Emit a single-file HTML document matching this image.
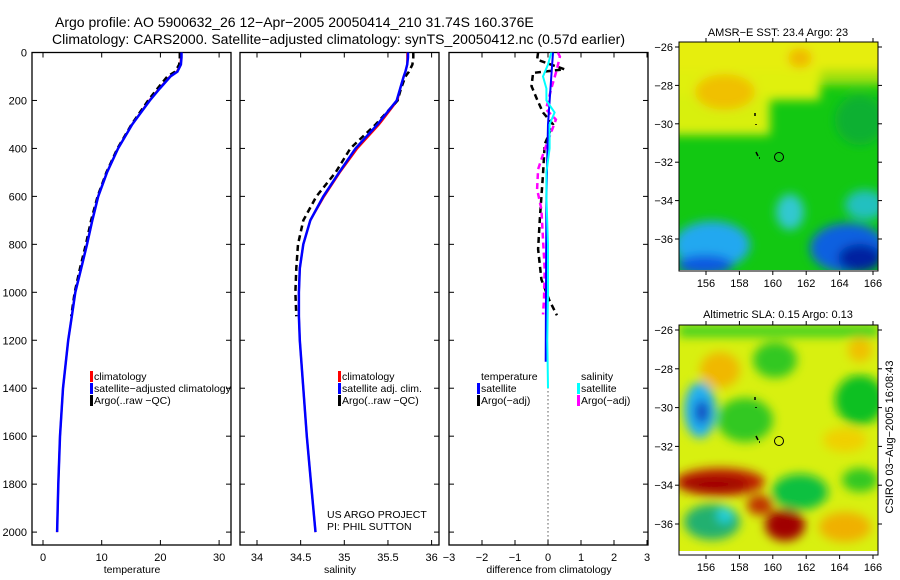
<!DOCTYPE html>
<html><head><meta charset="utf-8"><style>
html,body{margin:0;padding:0;background:#fff;}
svg{display:block;font-family:"Liberation Sans",sans-serif;}
</style></head><body>
<svg id="root" width="900" height="580" viewBox="0 0 900 580">
<defs>
<filter id="blur1" x="-20%" y="-20%" width="140%" height="140%"><feGaussianBlur stdDeviation="5"/></filter>
<clipPath id="clipMap1"><rect x="679" y="42" width="199" height="228"/></clipPath>
<clipPath id="clipMap2"><rect x="679" y="325" width="199" height="226"/></clipPath>
<clipPath id="clipP1"><rect x="32" y="52.5" width="199" height="492.5"/></clipPath>
<clipPath id="clipP2"><rect x="240" y="52.5" width="199" height="492.5"/></clipPath>
<clipPath id="clipP3"><rect x="449" y="52.5" width="199" height="492.5"/></clipPath>
</defs>
<text x="55" y="27" font-size="14">Argo profile: AO 5900632_26 12−Apr−2005 20050414_210 31.74S 160.376E</text>
<text x="52" y="44" font-size="14" textLength="573">Climatology: CARS2000. Satellite−adjusted climatology: synTS_20050412.nc (0.57d earlier)</text>

<!-- map 1 -->
<g>
<g clip-path="url(#clipMap1)">
<rect x="679" y="42" width="199" height="228" fill="#12c812"/>
<g filter="url(#blur1)">
<rect x="660" y="30" width="240" height="45" fill="#e6ee10"/>
<rect x="660" y="70" width="160" height="30" fill="#e0f010"/>
<rect x="660" y="95" width="110" height="40" fill="#d8f010"/>
<rect x="820" y="70" width="80" height="15" fill="#a0e010"/>
<ellipse cx="725" cy="92" rx="30" ry="18" fill="#f0c000"/>
<ellipse cx="800" cy="58" rx="12" ry="10" fill="#f0b800"/>
<ellipse cx="860" cy="120" rx="25" ry="25" fill="#10b030"/>
<ellipse cx="790" cy="212" rx="14" ry="18" fill="#30c8d0"/>
<ellipse cx="865" cy="205" rx="20" ry="15" fill="#20c0c0"/>
<ellipse cx="848" cy="248" rx="38" ry="25" fill="#1060e0"/>
<ellipse cx="860" cy="258" rx="22" ry="14" fill="#0020a0"/>
<ellipse cx="712" cy="245" rx="38" ry="24" fill="#20a8f0"/>
<ellipse cx="705" cy="265" rx="28" ry="10" fill="#1058e0"/>
</g>
</g>
<rect x="679" y="42" width="199" height="229" fill="none" stroke="#000"/>
<text x="778" y="36" font-size="11" text-anchor="middle">AMSR−E SST: 23.4 Argo: 23</text>
<circle cx="779" cy="157" r="4.5" fill="none" stroke="#000"/>
<path d="M755 113 v3 M756 124 v1 M756 152 l2 4 M759 158 h1" stroke="#000" stroke-width="1.5" fill="none"/>
</g>

<!-- map 2 -->
<g>
<g clip-path="url(#clipMap2)">
<rect x="679" y="325" width="199" height="230" fill="#d8f010"/>
<g filter="url(#blur1)">
<rect x="679" y="325" width="199" height="12" fill="#40d020"/>
<ellipse cx="775" cy="360" rx="22" ry="18" fill="#30c820"/>
<ellipse cx="860" cy="400" rx="25" ry="25" fill="#10c020"/>
<ellipse cx="860" cy="350" rx="12" ry="12" fill="#f0c000"/>
<ellipse cx="720" cy="370" rx="20" ry="18" fill="#f0b800"/>
<ellipse cx="745" cy="420" rx="28" ry="22" fill="#30c820"/>
<ellipse cx="700" cy="410" rx="16" ry="28" fill="#20b0f0"/>
<ellipse cx="702" cy="412" rx="7" ry="12" fill="#1040c0"/>
<ellipse cx="800" cy="492" rx="28" ry="18" fill="#10c040"/>
<ellipse cx="845" cy="440" rx="22" ry="12" fill="#f0d000"/>
<ellipse cx="720" cy="482" rx="45" ry="14" fill="#c02000"/>
<ellipse cx="715" cy="484" rx="35" ry="8" fill="#a00000"/>
<ellipse cx="785" cy="525" rx="20" ry="16" fill="#a00000"/>
<ellipse cx="760" cy="505" rx="13" ry="10" fill="#c03000"/>
<ellipse cx="712" cy="522" rx="28" ry="18" fill="#20b070"/>
<ellipse cx="725" cy="515" rx="8" ry="8" fill="#20d0e0"/>
<ellipse cx="845" cy="527" rx="26" ry="15" fill="#f0b000"/>
<ellipse cx="860" cy="480" rx="18" ry="12" fill="#30c820"/>
</g>
</g>
<rect x="679" y="551" width="199" height="4" fill="#fff"/>
<rect x="679" y="325" width="199" height="230" fill="none" stroke="#000"/>
<text x="778" y="318" font-size="11" text-anchor="middle">Altimetric SLA: 0.15 Argo: 0.13</text>
<circle cx="779" cy="441" r="4.5" fill="none" stroke="#000"/>
<path d="M755 397 v3 M756 407 v1 M756 436 l2 4 M759 442 h1" stroke="#000" stroke-width="1.5" fill="none"/>
</g>
<text transform="translate(893,437) rotate(-90)" font-size="11" text-anchor="middle">CSIRO 03−Aug−2005 16:08:43</text>

<g id="plots"></g>
</svg>
<script>
// ---- data ----
const depths = [0,20,50,80,100,150,200,300,400,500,600,700,800,900,1000,1100,1200,1400,1600,1800,2000];
const climTemp = [23.5,23.5,23.4,22.8,21.6,19.8,18.1,15.2,12.8,10.9,9.4,8.4,7.5,6.5,5.5,4.9,4.3,3.4,2.9,2.6,2.4];
const satTemp = [23.6,23.6,23.5,22.9,21.7,19.9,18.2,15.2,12.8,10.9,9.4,8.4,7.5,6.5,5.5,4.9,4.3,3.4,2.9,2.6,2.4];
const climSal = [35.72,35.72,35.72,35.70,35.68,35.64,35.61,35.40,35.15,34.95,34.77,34.61,34.53,34.49,34.48,34.48,34.49,34.53,34.57,34.62,34.67];
const satSal = [35.73,35.73,35.72,35.70,35.68,35.64,35.60,35.38,35.13,34.94,34.76,34.61,34.53,34.49,34.48,34.48,34.49,34.53,34.57,34.62,34.67];
const argoDepths = [0,20,50,80,100,150,200,300,400,500,600,700,800,900,1000,1100];
const argoTemp = [23.3,23.3,23.2,22.5,21.2,19.5,17.9,15.1,12.7,10.8,9.3,8.2,7.3,6.3,5.4,4.8];
const argoSal = [35.79,35.79,35.78,35.74,35.70,35.65,35.61,35.36,35.07,34.90,34.68,34.53,34.47,34.45,34.44,34.45];
const diffTDepths = [0,30,70,85,140,196,250,300,383,508,696,820,946,1030,1096];
const diffTArgo = [-0.3,-0.33,0.5,-0.45,-0.5,-0.33,-0.15,0.15,-0.1,-0.15,-0.25,-0.3,-0.2,0.03,0.27];
const diffSDepths = [0,17,70,150,237,280,404,487,570,654,779,904,1030,1092];
const diffSArgo = [0.3,0.36,0.27,0.1,-0.06,0.24,-0.1,-0.3,-0.33,-0.2,-0.15,-0.1,-0.12,-0.15];
const satTDepths = [0,100,300,600,1290];
const satTDiff = [0.15,0.1,0.0,-0.05,-0.07];
const satSDepths = [0,50,100,150,200,250,300,400,500,600,800,1000,1200,1400];
const satSDiff = [0.1,0.0,-0.15,-0.05,-0.05,0.2,0.05,0.05,-0.05,-0.05,0.0,0.0,-0.02,0.0];
const depthTicks = [0,200,400,600,800,1000,1200,1400,1600,1800,2000];
const tempTicks = [0,10,20,30];
const salTicks = [34,34.5,35,35.5,36];
const diffTicks = [-3,-2,-1,0,1,2,3];

const NS = "http://www.w3.org/2000/svg";
const plots = document.getElementById('plots');
const top0 = 52.5, bot = 545;
function yD(d){ return top0 + d*0.2398; }
const xT = v => 43 + v*5.87;
const xS = v => 257 + (v-34)*87.3;
const xDf = v => 548 + v*33;

function el(tag, attrs, parent){
  const e = document.createElementNS(NS, tag);
  for (const k in attrs) e.setAttribute(k, attrs[k]);
  (parent||plots).appendChild(e);
  return e;
}
function line(xs, ds, xf, color, w, dash, clip, name){
  let d = '';
  xs.forEach((v,i)=>{ d += (i?'L':'M') + xf(v).toFixed(1) + ' ' + yD(ds[i]).toFixed(1); });
  const p = el('path', {d:d, fill:'none', stroke:color, 'stroke-width':w, 'clip-path':'url(#'+clip+')'});
  if (dash) p.setAttribute('stroke-dasharray', dash);
  
  
}
function panel(x0, ticks, xf, fmt, xlabel, showY, name){
  const g = el('g', {});
  
  
  const f = el('rect', {x:x0, y:top0, width:199, height:bot-top0, fill:'none', stroke:'#000', 'stroke-width':1.3}, g);
  
  
  depthTicks.forEach(d=>{
    el('line', {x1:x0, x2:x0+5, y1:yD(d), y2:yD(d), stroke:'#000'}, g);
    el('line', {x1:x0+199, x2:x0+194, y1:yD(d), y2:yD(d), stroke:'#000'}, g);
    if (showY){
      const t = el('text', {x:27, y:yD(d)+4, 'font-size':11, 'text-anchor':'end'}, g);
      t.textContent = d;
      
      
    }
  });
  ticks.forEach(v=>{
    const x = xf(v);
    el('line', {x1:x, x2:x, y1:bot, y2:bot-5, stroke:'#000'}, g);
    el('line', {x1:x, x2:x, y1:top0, y2:top0+5, stroke:'#000'}, g);
    const t = el('text', {x:x, y:561, 'font-size':11, 'text-anchor':'middle'}, g);
    t.textContent = fmt(v);
    
    
  });
  const xl = el('text', {x:x0+100, y:573, 'font-size':10.5, 'text-anchor':'middle'}, g);
  xl.textContent = xlabel;
  
  
}
panel(32, tempTicks, xT, v=>String(v), 'temperature', true, 'temperature-panel');
panel(240, salTicks, xS, v=>String(v), 'salinity', false, 'salinity-panel');
panel(449, diffTicks, xDf, v=>String(v).replace('-','−'), 'difference from climatology', false, 'difference-panel');

// temperature panel
line(climTemp, depths, xT, '#ff0000', 2, null, 'clipP1', 'climatology-temp-line');
line(argoTemp, argoDepths, xT, '#000', 2.5, '6,4', 'clipP1', 'argo-temp-line');
line(satTemp, depths, xT, '#0000ff', 2.5, null, 'clipP1', 'satellite-temp-line');
// salinity panel
line(climSal, depths, xS, '#ff0000', 2, null, 'clipP2', 'climatology-sal-line');
line(argoSal, argoDepths, xS, '#000', 2.5, '6,4', 'clipP2', 'argo-sal-line');
line(satSal, depths, xS, '#0000ff', 2.5, null, 'clipP2', 'satellite-sal-line');
// difference panel
const zl = el('line', {x1:xDf(0), x2:xDf(0), y1:yD(1380), y2:bot, stroke:'#000', 'stroke-dasharray':'1,3'});


line(diffTArgo, diffTDepths, xDf, '#000', 2.5, '6,4', 'clipP3', 'argo-temp-diff-line');
line(diffSArgo, diffSDepths, xDf, '#ff00ff', 2.5, '6,4', 'clipP3', 'argo-sal-diff-line');
line(satTDiff, satTDepths, xDf, '#0000ff', 2, null, 'clipP3', 'satellite-temp-diff-line');
line(satSDiff, satSDepths, xDf, '#00ffff', 2, null, 'clipP3', 'satellite-sal-diff-line');

function legend(x, y, color, label, name){
  if (color){
    const m = el('rect', {x:x-4, y:y-9, width:3, height:11, fill:color});
    
    
  }
  const t = el('text', {x:x, y:y, 'font-size':10.5});
  t.textContent = label;
  
  
}
legend(94, 380, '#ff0000', 'climatology', 'legend-climatology');
legend(94, 392, '#0000ff', 'satellite−adjusted climatology', 'legend-satellite');
legend(94, 404, '#000', 'Argo(..raw −QC)', 'legend-argo');
legend(342, 380, '#ff0000', 'climatology', 'legend-climatology');
legend(342, 392, '#0000ff', 'satellite adj. clim.', 'legend-satellite');
legend(342, 404, '#000', 'Argo(..raw −QC)', 'legend-argo');
legend(481, 380, null, 'temperature', 'legend-temperature-heading');
legend(481, 392, '#0000ff', 'satellite', 'legend-temp-satellite');
legend(481, 404, '#000', 'Argo(−adj)', 'legend-temp-argo');
legend(581, 380, null, 'salinity', 'legend-salinity-heading');
legend(581, 392, '#00ffff', 'satellite', 'legend-sal-satellite');
legend(581, 404, '#ff00ff', 'Argo(−adj)', 'legend-sal-argo');
legend(327, 518, null, 'US ARGO PROJECT', 'project-label');
legend(327, 530, null, 'PI: PHIL SUTTON', 'pi-label');

// map axes
const lonTicks = [156,158,160,162,164,166];
const latTicks = [-26,-28,-30,-32,-34,-36];
function mapAxes(yTop, yBot, lat0y, latStep, name){
  lonTicks.forEach(l=>{
    const x = 706 + (l-156)*16.7;
    el('line', {x1:x, x2:x, y1:yBot, y2:yBot+4, stroke:'#000'});
    el('line', {x1:x, x2:x, y1:yTop, y2:yTop-4, stroke:'#000'});
    const t = el('text', {x:x, y:yBot+16, 'font-size':11, 'text-anchor':'middle'});
    t.textContent = l;
    
    
  });
  latTicks.forEach(l=>{
    const y = lat0y + (-26-l)*latStep;
    el('line', {x1:679, x2:675, y1:y, y2:y, stroke:'#000'});
    el('line', {x1:878, x2:882, y1:y, y2:y, stroke:'#000'});
    const t = el('text', {x:673, y:y+4, 'font-size':11, 'text-anchor':'end'});
    t.textContent = String(l).replace('-','−');
    
    
  });
}
mapAxes(42, 271, 47, 19.2, 'sst-map');
mapAxes(325, 555, 330, 19.4, 'sla-map');
</script>
</body></html>
